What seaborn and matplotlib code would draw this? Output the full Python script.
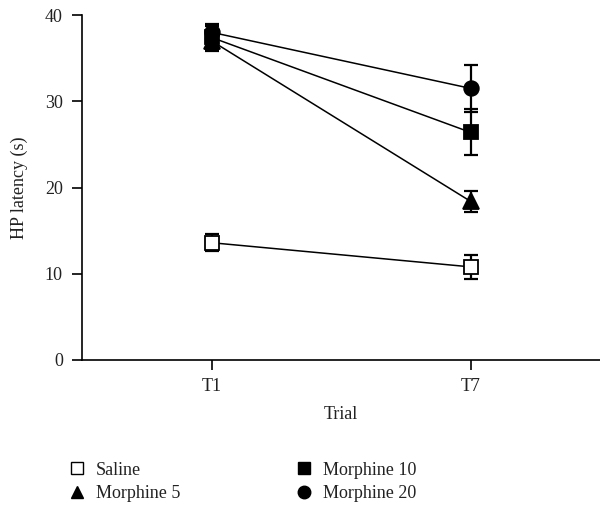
import matplotlib
matplotlib.use("Agg")
import matplotlib.pyplot as plt
import seaborn as sns
import pandas as pd

trials = ["T1", "T7"]
groups = ["Saline", "Morphine 5", "Morphine 10", "Morphine 20"]
saline_mean = [13.6, 10.8]
saline_err = [1.0, 1.35]
m5_mean = [37.0, 18.4]
m5_err = [1.2, 1.25]
m10_mean = [37.4, 26.4]
m10_err = [1.3, 2.65]
m20_mean = [38.0, 31.5]
m20_err = [1.0, 2.75]

means = [saline_mean, m5_mean, m10_mean, m20_mean]
errs = [saline_err, m5_err, m10_err, m20_err]

rows = []
for g, m, e in zip(groups, means, errs):
    for i, t in enumerate(trials):
        rows.append({"Group": g, "Trial": t, "pos": i, "Latency": m[i], "Err": e[i]})
df = pd.DataFrame(rows)

sns.set_theme(style="ticks")
plt.rcParams["font.family"] = ["Liberation Serif", "DejaVu Serif"]

fig = plt.figure(figsize=(6.0, 5.11), dpi=100)
ax = fig.add_axes([0.137, 0.2955, 0.863, 0.675])

markers = {"Saline": "s", "Morphine 5": "^", "Morphine 10": "s", "Morphine 20": "o"}
faces = {"Saline": "white", "Morphine 5": "black", "Morphine 10": "black", "Morphine 20": "black"}
sizes = {"Saline": 10, "Morphine 5": 11, "Morphine 10": 10.5, "Morphine 20": 10.5}

for g in groups:
    sub = df[df["Group"] == g]
    sns.lineplot(data=sub, x="pos", y="Latency", ax=ax, color="black", lw=1.1,
                 legend=False, zorder=2)
    ax.errorbar(sub["pos"], sub["Latency"], yerr=sub["Err"], fmt="none",
                ecolor="black", elinewidth=1.6, capsize=5, capthick=1.6, zorder=3)
    ax.plot(sub["pos"], sub["Latency"], ls="none", marker=markers[g],
            markersize=sizes[g], markerfacecolor=faces[g],
            markeredgecolor="black", markeredgewidth=1.3, zorder=4, label=g)

ax.set_xlim(-0.5, 1.5)
ax.set_ylim(0, 40)
ax.set_xticks([0, 1])
ax.set_xticklabels(trials)
ax.set_yticks([0, 10, 20, 30, 40])
ax.set_xlabel("Trial", fontsize=13, labelpad=8, color="#222222")
ax.set_ylabel("HP latency (s)", fontsize=13, labelpad=12, color="#222222")
ax.tick_params(axis="both", labelsize=13, length=7, width=1.2, color="black",
               labelcolor="#222222")
ax.tick_params(axis="y", pad=7)
ax.tick_params(axis="x", pad=6)
for s in ["top", "right"]:
    ax.spines[s].set_visible(False)
for s in ["left", "bottom"]:
    ax.spines[s].set_linewidth(1.2)
    ax.spines[s].set_color("black")

leg_handles = []
for g in groups:
    leg_handles.append(plt.Line2D([], [], ls="none", marker=markers[g],
                                  markersize=9, markerfacecolor=faces[g],
                                  markeredgecolor="black", markeredgewidth=1.0))
leg = fig.legend(leg_handles, groups, loc="upper left", bbox_to_anchor=(0.102, 0.111),
                 ncol=2, frameon=False, fontsize=13, columnspacing=6.4,
                 handletextpad=0.5, handlelength=1.0, labelspacing=0.35,
                 borderaxespad=0)
for t in leg.get_texts():
    t.set_color("#222222")

fig.savefig("out.png", dpi=100)
